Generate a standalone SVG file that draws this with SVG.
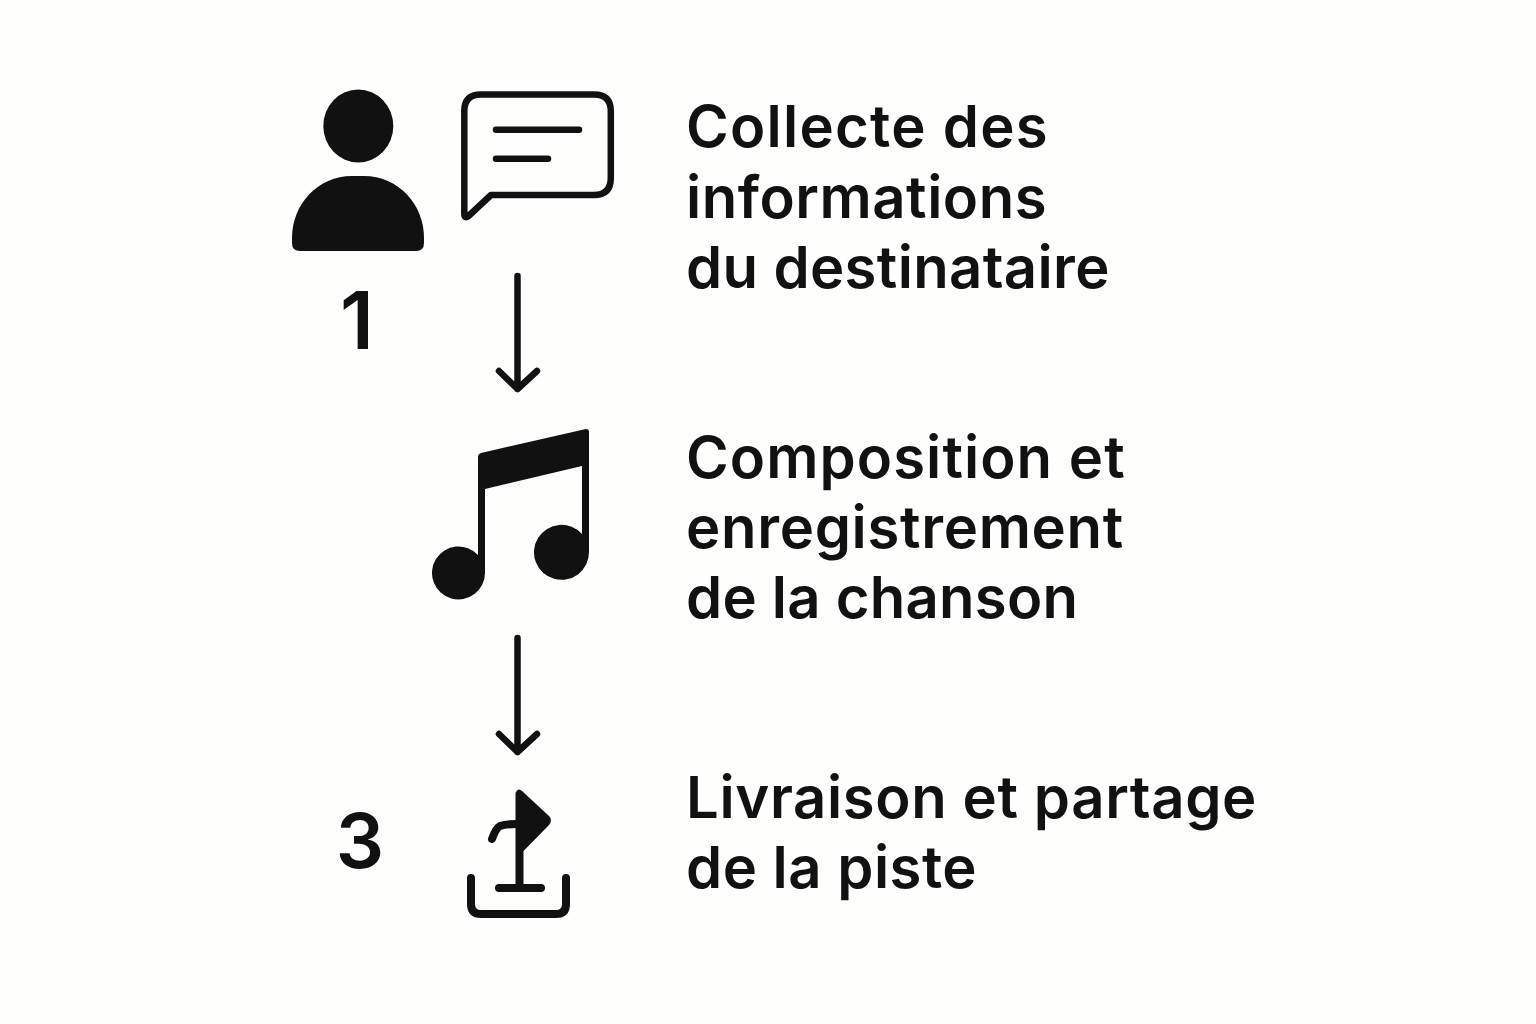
<svg xmlns="http://www.w3.org/2000/svg" width="1536" height="1024" viewBox="0 0 1536 1024">
<style>
.t{font-family:"Inter","Liberation Sans",sans-serif;font-weight:600;font-size:58px;fill:#111}
.n{font-family:"Inter","Liberation Sans",sans-serif;font-weight:600;fill:#111}
.f{fill:#111}
.s{fill:none;stroke:#111;stroke-linecap:round;stroke-linejoin:round}
</style>
<rect width="1536" height="1024" fill="#fefefc"/>
<g id="step1">
<g id="person"><ellipse class="f" cx="358.300" cy="126" rx="35" ry="36.500"/><path class="f" d="M292 238C292 204 318 176 352 176H364C398 176 424 204 424 238V243Q424 251 416 251H300Q292 251 292 243Z"/></g>
<g id="bubble"><path class="s" stroke-width="6.500" d="M481 94.500H594Q610.800 94.500 610.800 111V178Q610.800 195 594 195H491L468.500 216Q464.300 219 464.300 214V111Q464.300 94.500 481 94.500Z"/><path class="s" stroke-width="6.500" d="M496 129.700H579M496 158.700H548"/></g>
<text class="n" x="357" y="349" font-size="80" text-anchor="middle">1</text>
<text class="t" x="686" y="147" letter-spacing="1.270">Collecte des</text>
<text class="t" x="686" y="218" letter-spacing="0.550">informations</text>
<text class="t" x="686" y="288" letter-spacing="0.360">du destinataire</text>
</g>
<g id="step2">
<path id="note" class="f" d="M478 457Q478 454 481 453L586 429Q589 429 589 432V552A27.500 27.500 0 1 1 582 534V466L485 489V573A26.500 26.500 0 1 1 478 555Z"/>
<text class="t" x="686" y="478" letter-spacing="1.080">Composition et</text>
<text class="t" x="686" y="548" letter-spacing="0.700">enregistrement</text>
<text class="t" x="686" y="618" letter-spacing="0.250">de la chanson</text>
</g>
<g id="step3">
<g id="share"><path class="f" d="M515.500 793Q518 787 522 791L549 816Q553 820 549 825L523.500 851V888H515.500Z"/><path class="s" stroke-width="8" d="M516 824Q506 824 500 826Q496 828 492 839M499 888H541"/><path class="s" stroke-width="8" d="M471 878V904Q471 914 481 914H556Q566 914 566 904V878"/></g>
<text class="n" x="360" y="868" font-size="76" text-anchor="middle">3</text>
<text class="t" x="686" y="818" letter-spacing="0.630">Livraison et partage</text>
<text class="t" x="686" y="888" letter-spacing="0.500">de la piste</text>
</g>
<g id="connectors">
<path class="s" stroke-width="6.500" d="M517.500 276V389M499 371L517.500 389L537 371"/>
<path class="s" stroke-width="6.500" d="M517.500 638V752M499 734L517.500 752L537 734"/>
</g>
</svg>
